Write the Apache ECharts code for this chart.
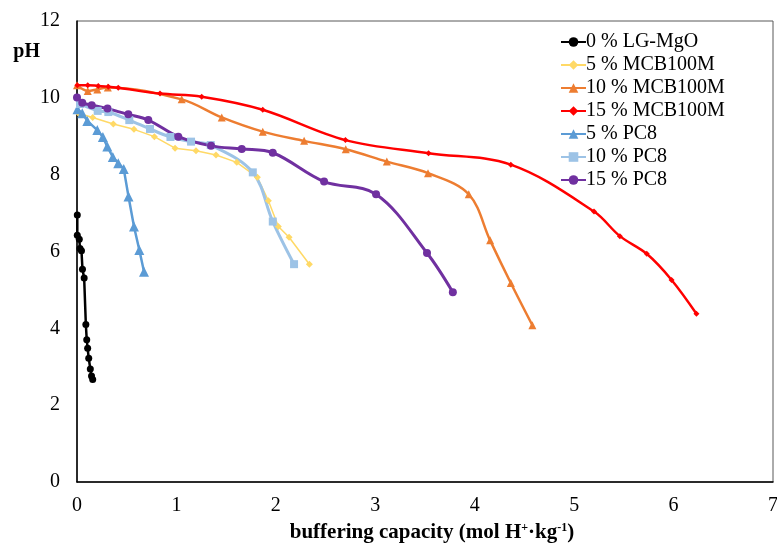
<!DOCTYPE html>
<html>
<head>
<meta charset="utf-8">
<script src="https://cdn.jsdelivr.net/npm/echarts@6/dist/echarts.min.js"></script>
<style>
  html, body { margin: 0; padding: 0; background: #fff; }
  #chart { width: 777px; height: 545px; }
</style>
</head>
<body>
<div id="chart"></div>
<script>
// series names (legend order)
var names = ['0 % LG-MgO', '5 % MCB100M', '10 % MCB100M', '15 % MCB100M', '5 % PC8', '10 % PC8', '15 % PC8'];

// buffering capacity (x) and pH (y)
var lgX = [0.003, 0.003, 0.023, 0.03, 0.045, 0.055, 0.072, 0.089, 0.098, 0.107, 0.118, 0.134, 0.146, 0.158];
var lgY = [6.95, 6.42, 6.32, 6.08, 6.02, 5.54, 5.31, 4.10, 3.70, 3.48, 3.22, 2.94, 2.76, 2.67];

var mcb5X = [0.013, 0.158, 0.365, 0.573, 0.778, 0.986, 1.197, 1.398, 1.607, 1.814, 1.925, 2.025, 2.133, 2.337];
var mcb5Y = [9.60, 9.49, 9.32, 9.18, 8.99, 8.69, 8.62, 8.51, 8.32, 7.93, 7.32, 6.65, 6.37, 5.67];

var mcb10X = [0.0, 0.108, 0.204, 0.31, 1.053, 1.456, 1.868, 2.284, 2.703, 3.116, 3.53, 3.94, 4.155, 4.363, 4.58];
var mcb10Y = [10.33, 10.18, 10.22, 10.27, 9.96, 9.49, 9.12, 8.88, 8.66, 8.34, 8.04, 7.49, 6.29, 5.18, 4.08];

var mcb15X = [0.003, 0.108, 0.214, 0.315, 0.415, 0.835, 1.254, 1.868, 2.70, 3.536, 4.363, 5.20, 5.46, 5.73, 5.98, 6.23];
var mcb15Y = [10.33, 10.33, 10.31, 10.29, 10.26, 10.11, 10.03, 9.69, 8.90, 8.56, 8.26, 7.04, 6.40, 5.94, 5.26, 4.38];

var pc5X = [0.005, 0.053, 0.104, 0.204, 0.26, 0.305, 0.36, 0.415, 0.47, 0.518, 0.573, 0.627, 0.674];
var pc5Y = [9.70, 9.60, 9.40, 9.16, 8.98, 8.73, 8.46, 8.30, 8.15, 7.43, 6.65, 6.04, 5.47];

var pc10X = [0.03, 0.208, 0.315, 0.526, 0.734, 0.94, 1.147, 1.345, 1.768, 1.969, 2.183];
var pc10Y = [9.84, 9.66, 9.63, 9.42, 9.19, 8.98, 8.86, 8.77, 8.06, 6.78, 5.67];

var pc15X = [0.0, 0.053, 0.148, 0.307, 0.516, 0.717, 1.019, 1.348, 1.657, 1.969, 2.485, 3.008, 3.52, 3.78];
var pc15Y = [10.01, 9.87, 9.81, 9.72, 9.57, 9.42, 8.99, 8.75, 8.67, 8.57, 7.82, 7.49, 5.96, 4.94];

var xTicks = [0, 1, 2, 3, 4, 5, 6, 7];
var yTicks = [0, 2, 4, 6, 8, 10, 12];

function pairs(xs, ys) {
    return xs.map(function (x, i) { return [x, ys[i]]; });
}

function line(name, xs, ys, color, width, symbol, size, smooth) {
    return {
        name: name,
        type: 'line',
        data: pairs(xs, ys),
        smooth: smooth ? 0.35 : false,
        symbol: symbol,
        symbolSize: size,
        showSymbol: true,
        lineStyle: { color: color, width: width },
        itemStyle: { color: color, borderWidth: 0 },
        emphasis: { disabled: true }
    };
}

var font = 'Liberation Serif';

var chart = echarts.init(document.getElementById('chart'));
chart.setOption({
    animation: false,
    backgroundColor: '#fff',
    grid: {
        left: 77, right: 4, top: 21, bottom: 63,
        outerBoundsMode: 'none',
        containLabel: false,
        show: true, borderColor: '#595959', borderWidth: 1
    },
    legend: {
        data: names,
        orient: 'vertical',
        left: 555,
        top: 27,
        itemWidth: 25,
        itemHeight: 12,
        itemGap: 3,
        textStyle: { fontFamily: font, fontSize: 20, color: '#000', padding: [0, 0, 0, -5] }
    },
    xAxis: {
        type: 'value',
        min: xTicks[0], max: xTicks[xTicks.length - 1], interval: 1,
        name: 'buffering capacity (mol H{sup|+}·kg{sup|-1})',
        nameLocation: 'middle',
        nameGap: 40,
        nameTextStyle: {
            fontFamily: font, fontSize: 21, fontWeight: 'bold', color: '#000', padding: [0, 0, 0, 14],
            rich: { sup: { fontFamily: font, fontSize: 12, fontWeight: 'bold', color: '#000', verticalAlign: 'top', padding: [0, 0, 8, 0] } }
        },
        axisLine: { lineStyle: { color: '#000', width: 1.5 } },
        axisTick: { show: false },
        splitLine: { show: false },
        axisLabel: { fontFamily: font, fontSize: 20, color: '#000', margin: 14 }
    },
    yAxis: {
        type: 'value',
        min: yTicks[0], max: yTicks[yTicks.length - 1], interval: 2,
        name: 'pH',
        nameLocation: 'end',
        nameGap: -41,
        nameTextStyle: { fontFamily: font, fontSize: 20, fontWeight: 'bold', color: '#000', align: 'right', padding: [0, 37, 0, 0] },
        axisLine: { show: true, lineStyle: { color: '#000', width: 1.5 } },
        axisTick: { show: false },
        splitLine: { show: false },
        axisLabel: { fontFamily: font, fontSize: 20, color: '#000', margin: 17 }
    },
    series: [
        line(names[0], lgX, lgY, '#000000', 2.5, 'circle', 7, false),
        line(names[1], mcb5X, mcb5Y, '#FFD966', 1.5, 'diamond', 7, false),
        line(names[2], mcb10X, mcb10Y, '#ED7D31', 2.5, 'triangle', 8, true),
        line(names[3], mcb15X, mcb15Y, '#FF0000', 2.5, 'diamond', 6, true),
        line(names[4], pc5X, pc5Y, '#5B9BD5', 2.5, 'triangle', 10, false),
        line(names[5], pc10X, pc10Y, '#9DC3E6', 3, 'rect', 8, true),
        line(names[6], pc15X, pc15Y, '#7030A0', 3, 'circle', 8, true)
    ]
});
</script>
</body>
</html>
